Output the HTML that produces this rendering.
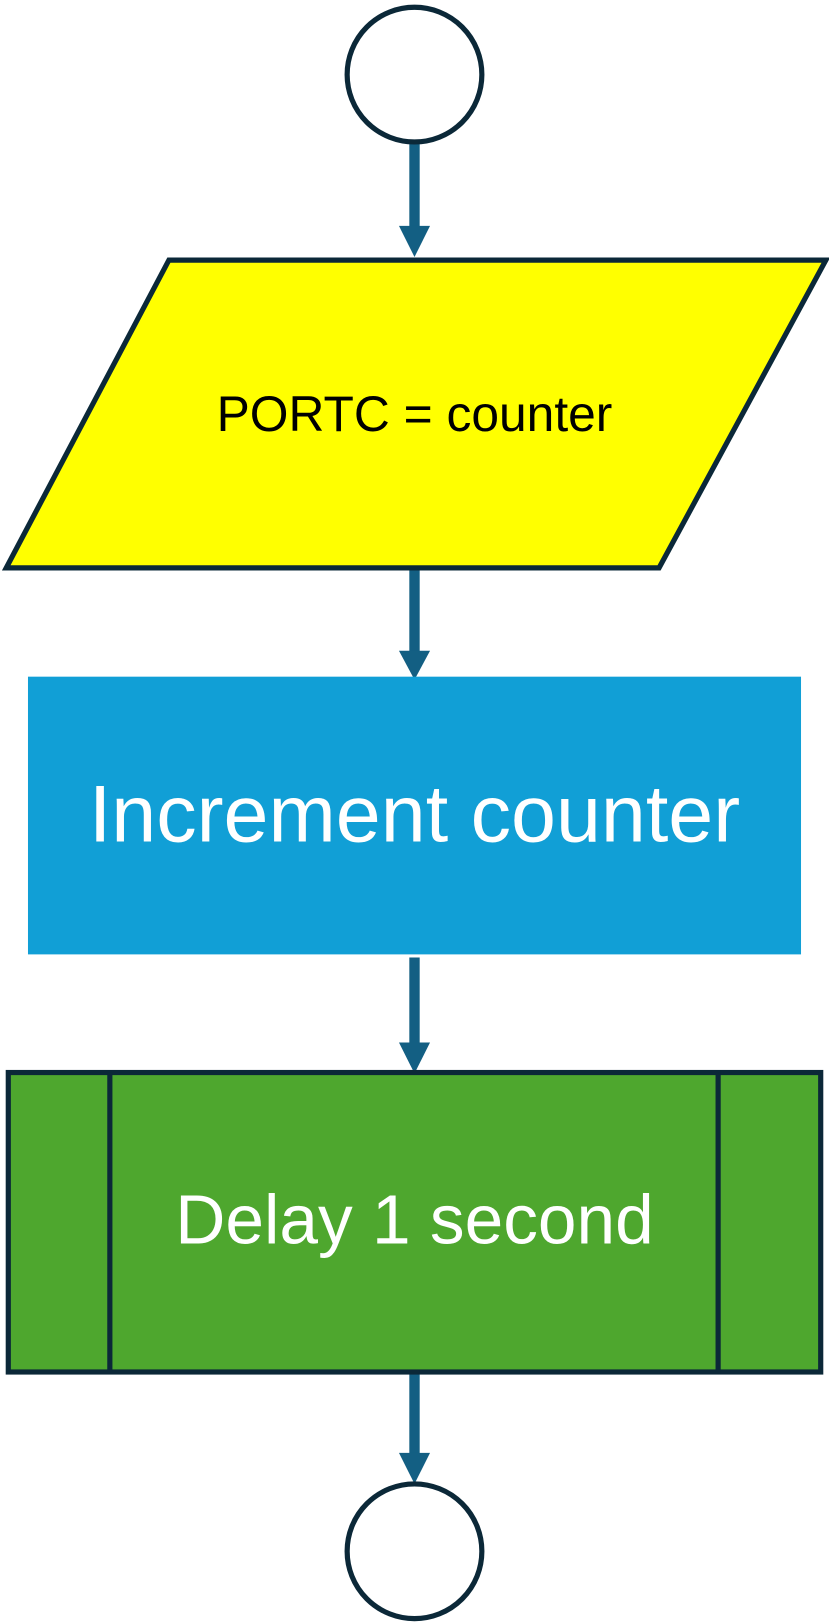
<!DOCTYPE html>
<html><head><meta charset="utf-8"><style>
html,body{margin:0;padding:0;background:#fff;}
svg{display:block;}
text{font-family:"Liberation Sans",sans-serif;}
</style></head><body>
<svg width="829" height="1622" viewBox="0 0 829 1622" xmlns="http://www.w3.org/2000/svg">
<g transform="scale(1.03625)">
<g fill="#135f83">
<rect x="395" y="138" width="10" height="82"/><polygon points="385,218 415,218 400,248"/>
<rect x="395" y="548" width="10" height="82"/><polygon points="385,628 415,628 400,656"/>
<rect x="395" y="924" width="10" height="84"/><polygon points="385,1006 415,1006 400,1036"/>
<rect x="395" y="1324" width="10" height="80"/><polygon points="385,1402 415,1402 400,1432"/>
</g>
<circle cx="400" cy="72" r="65" fill="#fff" stroke="#0b2838" stroke-width="5"/>
<polygon points="163,251 797,251 636,548 6,548" fill="#ffff00" stroke="#0b2838" stroke-width="5"/>
<text x="400" y="416" font-size="48" text-anchor="middle" fill="#000">PORTC = counter</text>
<rect x="27" y="653" width="746" height="268" fill="#119fd6"/>
<text x="400" y="812" font-size="78" text-anchor="middle" fill="#fff">Increment counter</text>
<rect x="8" y="1035" width="784" height="289" fill="#4ea72e" stroke="#0b2838" stroke-width="5"/>
<line x1="106" y1="1035" x2="106" y2="1324" stroke="#0b2838" stroke-width="5"/>
<line x1="693" y1="1035" x2="693" y2="1324" stroke="#0b2838" stroke-width="5"/>
<text x="400" y="1200" font-size="67" text-anchor="middle" fill="#fff">Delay 1 second</text>
<circle cx="400" cy="1497" r="65" fill="#fff" stroke="#0b2838" stroke-width="5"/>
</g>
</svg>
</body></html>
